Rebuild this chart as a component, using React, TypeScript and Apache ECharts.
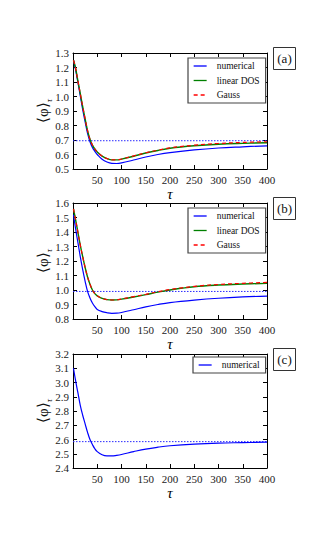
import React, { useEffect, useRef } from "react";
import * as echarts from "echarts";

// sample times (tau)
const tau = [1, 5, 10, 15, 20, 25, 30, 35, 40, 45, 50, 60, 70, 80, 90, 100, 125, 150, 175, 200, 250, 300, 350, 400];

// panel (a)
const aNumerical = [1.25, 1.19, 1.10, 1.005, 0.91, 0.825, 0.745, 0.688, 0.648, 0.622, 0.600, 0.567, 0.548, 0.539, 0.538, 0.542, 0.562, 0.583, 0.600, 0.613, 0.632, 0.645, 0.653, 0.660];
const aLinearDOS = [1.25, 1.20, 1.11, 1.02, 0.93, 0.845, 0.765, 0.705, 0.665, 0.638, 0.618, 0.589, 0.572, 0.563, 0.563, 0.568, 0.588, 0.610, 0.628, 0.643, 0.660, 0.671, 0.677, 0.681];
const aGauss = [1.25, 1.20, 1.11, 1.02, 0.93, 0.845, 0.765, 0.705, 0.665, 0.638, 0.618, 0.589, 0.572, 0.563, 0.563, 0.569, 0.590, 0.612, 0.630, 0.646, 0.664, 0.676, 0.683, 0.688];
const aReference = 0.695;

// panel (b)
const bNumerical = [1.52, 1.43, 1.33, 1.23, 1.14, 1.06, 0.99, 0.945, 0.91, 0.885, 0.866, 0.851, 0.843, 0.839, 0.840, 0.845, 0.864, 0.884, 0.900, 0.913, 0.930, 0.943, 0.952, 0.958];
const bLinearDOS = [1.56, 1.49, 1.40, 1.31, 1.23, 1.155, 1.09, 1.04, 1.00, 0.975, 0.960, 0.942, 0.934, 0.931, 0.932, 0.937, 0.952, 0.968, 0.985, 1.000, 1.022, 1.034, 1.041, 1.046];
const bGauss = [1.56, 1.49, 1.40, 1.31, 1.23, 1.155, 1.09, 1.04, 1.00, 0.975, 0.960, 0.942, 0.934, 0.931, 0.932, 0.938, 0.954, 0.970, 0.988, 1.003, 1.025, 1.038, 1.046, 1.052];
const bReference = 0.99;

// panel (c)
const cNumerical = [3.10, 3.02, 2.93, 2.84, 2.77, 2.71, 2.65, 2.60, 2.565, 2.535, 2.515, 2.493, 2.485, 2.485, 2.489, 2.495, 2.515, 2.533, 2.546, 2.556, 2.568, 2.575, 2.578, 2.581];
const cReference = 2.585;

const xTicks = [0, 50, 100, 150, 200, 250, 300, 350, 400];
const yRanges = [
  [0.5, 1.3],
  [0.8, 1.6],
  [2.4, 3.2],
];
const panelLabels = ["(a)", "(b)", "(c)"];
const legendNames = ["numerical", "linear DOS", "Gauss"];

const BLUE = "#0000ff";
const GREEN = "#008000";
const RED = "#ff0000";
const FONT = "Liberation Serif";

export default function App() {
  const ref = useRef<HTMLDivElement>(null);
  useEffect(() => {
    if (!ref.current) return;
    const chart = echarts.init(ref.current, null, { renderer: "svg" });
    const grids = [
      { left: 73, top: 53, width: 194, height: 116 },
      { left: 73, top: 203, width: 194, height: 116 },
      { left: 73, top: 354, width: 194, height: 114 },
    ];
    const xAxis: any[] = [];
    const yAxis: any[] = [];
    grids.forEach((g, i) => {
      const common = {
        gridIndex: i,
        type: "value",
        min: xTicks[0],
        max: xTicks[xTicks.length - 1],
        interval: 50,
        splitLine: { show: false },
        axisLine: { show: true, onZero: false, lineStyle: { color: "#000", width: 1 } },
        axisTick: { show: true, inside: true, length: 4, lineStyle: { color: "#000" } },
      };
      xAxis.push({
        ...common,
        position: "bottom",
        name: "τ",
        nameLocation: "middle",
        nameGap: 17,
        nameTextStyle: { fontFamily: FONT, fontStyle: "italic", fontSize: 15, color: "#000" },
        axisLabel: {
          fontFamily: FONT,
          fontSize: 11,
          color: "#222",
          margin: 5,
          formatter: (v: number) => (v === 0 ? "" : String(v)),
        },
      });
      xAxis.push({ ...common, position: "top", axisLabel: { show: false } });
      const ycommon = {
        gridIndex: i,
        type: "value",
        min: yRanges[i][0],
        max: yRanges[i][1],
        interval: 0.1,
        splitLine: { show: false },
        axisLine: { show: true, onZero: false, lineStyle: { color: "#000", width: 1 } },
        axisTick: { show: true, inside: true, length: 4, lineStyle: { color: "#000" } },
      };
      yAxis.push({
        ...ycommon,
        position: "left",
        axisLabel: {
          fontFamily: FONT,
          fontSize: 11,
          color: "#222",
          margin: 4,
          formatter: (v: number) => v.toFixed(1),
        },
      });
      yAxis.push({ ...ycommon, position: "right", axisLabel: { show: false } });
    });

    const line = (name: string, ys: number[], idx: number, color: string, dashed = false, width = 1.2) => ({
      name,
      type: "line",
      xAxisIndex: idx * 2,
      yAxisIndex: idx * 2,
      data: tau.map((t, k) => [t, ys[k]]),
      smooth: 0.4,
      showSymbol: false,
      symbol: "none",
      lineStyle: { color, width, type: dashed ? [4, 3] : "solid" },
      itemStyle: { color },
      z: 3,
    });
    const refLine = (v: number, idx: number) => ({
      name: "reference" + idx,
      type: "line",
      xAxisIndex: idx * 2,
      yAxisIndex: idx * 2,
      data: [
        [xTicks[0], v],
        [xTicks[xTicks.length - 1], v],
      ],
      showSymbol: false,
      symbol: "none",
      lineStyle: { color: "#2a2aff", width: 1, type: [1.5, 1.5] },
      z: 2,
    });

    const series = [
      refLine(aReference, 0),
      line("numerical", aNumerical, 0, BLUE),
      line("linear DOS", aLinearDOS, 0, GREEN, false, 1.4),
      line("Gauss", aGauss, 0, RED, true),
      refLine(bReference, 1),
      line("numerical", bNumerical, 1, BLUE),
      line("linear DOS", bLinearDOS, 1, GREEN, false, 1.4),
      line("Gauss", bGauss, 1, RED, true),
      refLine(cReference, 2),
      line("numerical", cNumerical, 2, BLUE),
    ];

    const legendCommon = {
      orient: "vertical",
      left: 188,
      itemWidth: 13,
      itemHeight: 8,
      itemGap: 4.5,
      padding: [3, 6, 3, 5],
      borderColor: "#444",
      borderWidth: 1.2,
      backgroundColor: "#fff",
      selectedMode: false,
      itemStyle: { opacity: 0, borderWidth: 0 },
      lineStyle: { opacity: 1, width: 1.3 },
      textStyle: { fontFamily: FONT, fontSize: 9.5, color: "#111", padding: [0, 0, 0, 5] },
    };
    const legend = [
      { ...legendCommon, top: 58, data: legendNames },
      { ...legendCommon, top: 208, data: legendNames },
      { ...legendCommon, left: 193, top: 357, data: [legendNames[0]] },
    ];

    const graphic: any[] = [];
    grids.forEach((g, i) => {
      graphic.push({
        type: "group",
        left: 273,
        top: g.top - 6,
        children: [
          { type: "rect", shape: { x: 0, y: 0, width: 22, height: 22 }, style: { fill: "#fff", stroke: "#333", lineWidth: 1 } },
          {
            type: "text",
            x: 11,
            y: 11,
            style: { text: panelLabels[i], fontFamily: FONT, fontSize: 13, fill: "#111", align: "center", verticalAlign: "middle" },
          },
        ],
      });
      graphic.push({
        type: "text",
        x: 43,
        y: g.top + g.height / 2,
        rotation: Math.PI / 2,
        style: {
          text: "{a|⟨φ⟩}{s|τ}",
          align: "center",
          verticalAlign: "middle",
          rich: {
            a: { fontFamily: FONT, fontSize: 15, lineHeight: 20, fill: "#111", verticalAlign: "middle" },
            s: { fontFamily: FONT, fontStyle: "italic", fontSize: 9, lineHeight: 9, fill: "#111", verticalAlign: "bottom" },
          },
        },
      });
    });

    chart.setOption({
      animation: false,
      backgroundColor: "#fff",
      grid: grids,
      xAxis,
      yAxis,
      legend,
      series,
      graphic,
    });
    return () => chart.dispose();
  }, []);
  return <div ref={ref} style={{ position: "fixed", left: 0, top: 0, width: 333, height: 536 }} />;
}
